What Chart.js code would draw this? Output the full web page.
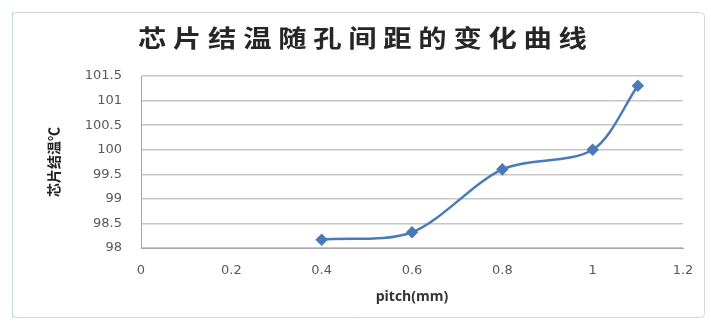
<!DOCTYPE html>
<html>
<head>
<meta charset="utf-8">
<script src="https://cdn.jsdelivr.net/npm/chart.js@4/dist/chart.umd.min.js"></script>
<style>
  html, body { margin: 0; padding: 0; background: #ffffff; }
  #wrap { width: 711px; height: 323px; position: relative; }
</style>
</head>
<body>
<div id="wrap"><canvas id="c" width="711" height="323"></canvas></div>
<script>
// Junction temperature of the chip versus hole pitch
const chartTitle = '芯片结温随孔间距的变化曲线';
const xAxisTitle = 'pitch(mm)';
const yAxisTitle = '芯片结温℃';

const pitch = [0.4, 0.6, 0.8, 1.0, 1.1];          // mm
const junctionTemp = [98.17, 98.32, 99.6, 100.0, 101.3]; // °C

const xTickLabels = ['0', '0.2', '0.4', '0.6', '0.8', '1', '1.2'];
const yTickLabels = ['98', '98.5', '99', '99.5', '100', '100.5', '101', '101.5'];

const points = pitch.map((p, i) => ({ x: p, y: junctionTemp[i] }));

const lineBlue = '#4a7ab8';
const gridGray = '#c6c6c6';
const tickGray = '#595959';

// Thin frame around the whole chart
const framePlugin = {
  id: 'frame',
  beforeDraw(chart) {
    const ctx = chart.ctx;
    ctx.save();
    ctx.fillStyle = '#ffffff';
    ctx.fillRect(0, 0, chart.width, chart.height);
    ctx.strokeStyle = '#d6d6d6';
    ctx.lineWidth = 1;
    ctx.beginPath();
    ctx.roundRect(12.5, 12.5, 692, 305, 4);
    ctx.stroke();
    ctx.strokeStyle = '#bfdede';
    ctx.beginPath();
    ctx.moveTo(12.5, 12);
    ctx.lineTo(12.5, 318);
    ctx.stroke();
    ctx.restore();
  }
};

// Wide, spaced heading drawn above the plot
const headingPlugin = {
  id: 'heading',
  afterDraw(chart) {
    const ctx = chart.ctx;
    ctx.save();
    ctx.font = 'bold 24px "Noto Sans CJK SC"';
    ctx.fillStyle = '#262626';
    ctx.textAlign = 'left';
    ctx.textBaseline = 'middle';
    ctx.letterSpacing = '5.7px';
    ctx.translate(138, 38);
    ctx.scale(1.18, 1);
    ctx.fillText(chartTitle, 0, 0);
    ctx.restore();
  }
};

new Chart(document.getElementById('c'), {
  type: 'line',
  data: {
    datasets: [{
      data: points,
      borderColor: lineBlue,
      backgroundColor: lineBlue,
      borderWidth: 2.5,
      tension: 0.3,
      pointStyle: 'rectRot',
      pointRadius: 4.5,
      pointHoverRadius: 4.5,
      pointBackgroundColor: lineBlue,
      pointBorderColor: lineBlue,
      fill: false
    }]
  },
  options: {
    responsive: false,
    animation: false,
    events: [],
    layout: { padding: { left: 30, right: 28, top: 76, bottom: 15 } },
    plugins: {
      legend: { display: false },
      title: { display: false },
      tooltip: { enabled: false }
    },
    scales: {
      x: {
        type: 'linear',
        min: 0,
        max: 1.2,
        afterFit(scale) { scale.height = 60; },
        ticks: {
          stepSize: 0.2,
          padding: 15,
          color: tickGray,
          font: { family: 'DejaVu Sans', size: 13 },
          callback: (v, i) => xTickLabels[i]
        },
        grid: { display: false, drawTicks: false },
        border: { display: true, color: '#a6a6a6', width: 1 },
        title: {
          display: true,
          text: xAxisTitle,
          color: '#333333',
          font: { family: 'Open Sans', size: 14, weight: 'bold' },
          padding: { top: 0, bottom: 3 }
        }
      },
      y: {
        type: 'linear',
        min: 98,
        max: 101.5,
        afterFit(scale) { scale.width = 111; },
        ticks: {
          stepSize: 0.5,
          padding: 19,
          color: tickGray,
          font: { family: 'DejaVu Sans', size: 13 },
          callback: (v, i) => yTickLabels[i]
        },
        grid: { color: gridGray, lineWidth: 1.5, drawTicks: false },
        border: { display: true, color: '#a6a6a6', width: 1 },
        title: {
          display: true,
          text: yAxisTitle,
          color: '#222222',
          font: { family: 'Noto Sans CJK SC', size: 14, weight: 'bold' },
          padding: { top: 15, bottom: 0 }
        }
      }
    }
  },
  plugins: [framePlugin, headingPlugin]
});
</script>
</body>
</html>
